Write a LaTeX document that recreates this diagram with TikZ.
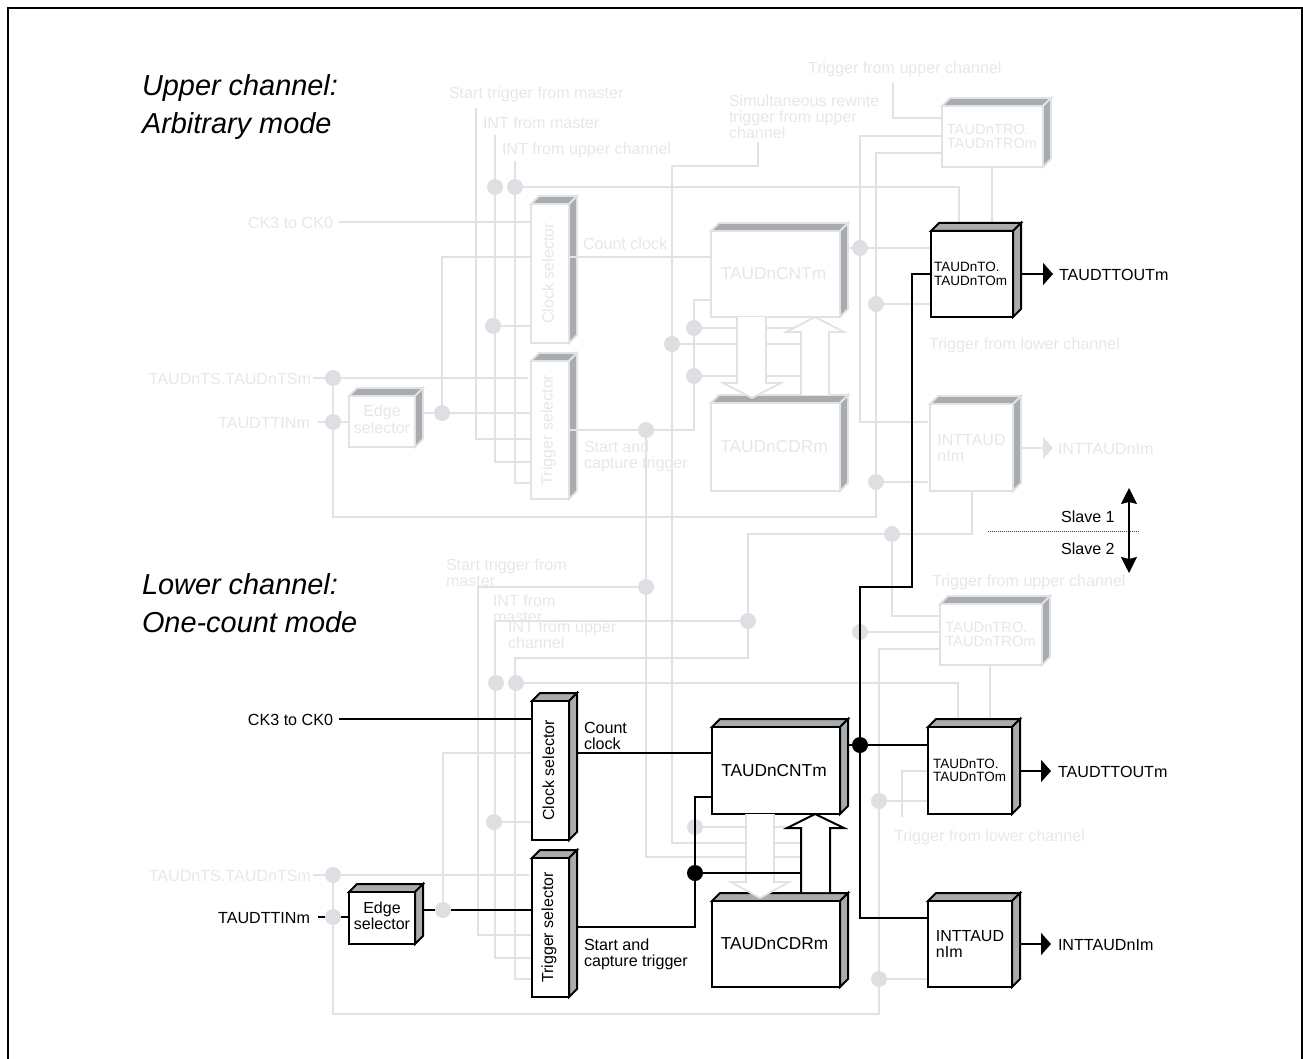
\documentclass[tikz,border=0pt]{standalone}
\usepackage{fontspec}
\setmainfont{Liberation Sans}
\usetikzlibrary{arrows.meta}
\definecolor{gl}{HTML}{E1E2E6}
\definecolor{gt}{HTML}{E6E7EA}
\definecolor{gd}{HTML}{DEDFE3}
\definecolor{sd}{HTML}{A8ACAF}
\newcommand\fs[2]{\fontsize{#1}{#2}\selectfont}
% style prefix (g/b), name, x1, y1, x2, y2, font, text
\newcommand\blk[8]{%
  \draw[#1face] (#3,#4) -- (#3+8,#4-8) -- (#5+8,#4-8) -- (#5,#4) -- cycle;
  \draw[#1face] (#5,#4) -- (#5+8,#4-8) -- (#5+8,#6-8) -- (#5,#6) -- cycle;
  \node[#1blk, font=#7, minimum width={(#5-#3)*1pt}, minimum height={(#6-#4)*1pt}] (#2) at ({(#3+#5)/2},{(#4+#6)/2}) {#8};
  \coordinate (#2-r) at (#5+8,#4);
}
\newcommand\edgetxt{\begin{tabular}{@{}c@{}}Edge\\selector\end{tabular}}
\tikzset{
  gface/.style={fill=sd,draw=gl,line width=1.8pt,line join=miter},
  bface/.style={fill=sd,draw=black,line width=2pt,line join=miter},
  gblk/.style={draw=gl,fill=white,line width=1.8pt,text=gt,inner sep=0pt,outer sep=0pt,align=left},
  bblk/.style={draw=black,fill=white,line width=2pt,text=black,inner sep=0pt,outer sep=0pt,align=left},
  gw/.style={draw=gl,line width=1.8pt,line join=miter},
  bw/.style={draw=black,line width=2pt,line join=miter},
  gdot/.style={circle,fill=gd,draw=none,minimum size=16pt,inner sep=0pt,outer sep=0pt},
  bdot/.style={circle,fill=black,draw=none,minimum size=16pt,inner sep=0pt,outer sep=0pt},
  lbl/.style={inner sep=0pt,outer sep=0pt,anchor=west,align=left,yshift=-1pt,font=\fs{16.1}{16}},
  glbl/.style={lbl,text=gt},
  head/.style={inner sep=0pt,outer sep=0pt,anchor=west,align=left,yshift=-1.5pt,font=\fs{28.9}{38}\itshape},
  gout/.style={gw,-{Triangle[length=10pt,width=22pt]}},
  bout/.style={bw,-{Triangle[length=10pt,width=22pt]}},
}
\begin{document}
\begin{tikzpicture}[x=1pt,y=-1pt]
\useasboundingbox (0,0) rectangle (1303,1059);
\coordinate (fa) at (8,1059); \coordinate (fb) at (1301.5,1059);
\draw[line width=2pt] (fa) -- (8,8) -- (1301.5,8) -- (fb);

% --- free ends
\coordinate (uS) at (476,108); \coordinate (uI) at (495,135); \coordinate (uU) at (515,161);
\coordinate (uCK) at (339,222); \coordinate (uTS) at (313,378); \coordinate (uTI) at (318,422);
\coordinate (uTRG) at (893,83); \coordinate (uSIM) at (758,142); \coordinate (uY) at (528,378);
\coordinate (lCK) at (339,719); \coordinate (lTS) at (313,875); \coordinate (lTI) at (318,917);
\coordinate (lLOW) at (902,817); \coordinate (lY) at (529,875);
\coordinate (uA) at (801,328); \coordinate (uB) at (801,344); \coordinate (uC) at (801,376);
\coordinate (lA) at (801,827); \coordinate (lB) at (801,843); \coordinate (lC) at (801,857);
\coordinate (uINTa) at (928,422); \coordinate (uINTb) at (928,482);

% --- junction positions
\coordinate (du1) at (495,187);
\coordinate (du2) at (515,187);
\coordinate (du3) at (493,326);
\coordinate (duTS) at (333,378);
\coordinate (duTI) at (333,422);
\coordinate (duE) at (442,413);
\coordinate (duT) at (646,430);
\coordinate (du4) at (694,328);
\coordinate (du5) at (672,344);
\coordinate (du6) at (694,376);
\coordinate (du7) at (860,248);
\coordinate (du8) at (876,304);
\coordinate (du9) at (876,482);
\coordinate (dm1) at (892,534);
\coordinate (dm2) at (646,587);
\coordinate (dm3) at (748,621);
\coordinate (dl1) at (496,683);
\coordinate (dl2) at (516,683);
\coordinate (dl3) at (494,822);
\coordinate (dlTS) at (333,875);
\coordinate (dlTI) at (333,917);
\coordinate (dlE) at (443,910);
\coordinate (dlC) at (695,827);
\coordinate (dl4) at (860,632);
\coordinate (dl5) at (879,801);
\coordinate (dl6) at (879,979);

% --- gray blocks
\blk{g}{clkU}{531}{204}{569}{343}{\fs{16}{16}}{\rotatebox{90}{Clock selector}\hspace*{4pt}}
\blk{g}{trigU}{531}{361}{569}{499}{\fs{16}{16}}{\rotatebox{90}{Trigger selector}\hspace*{3pt}}
\blk{g}{edgeU}{349}{396}{415}{447}{\fs{16}{16}}{\edgetxt}
\blk{g}{cntU}{711}{231}{840}{317}{\fs{17.3}{18}}{TAUDnCNTm\hspace*{4pt}}
\blk{g}{cdrU}{711}{403}{840}{491}{\fs{17.3}{18}}{TAUDnCDRm\hspace*{3pt}}
\blk{g}{trU}{942}{106}{1043}{167}{\fs{14.7}{14}}{TAUDnTRO.\\TAUDnTROm\hspace*{1pt}}
\blk{g}{intU}{930}{404}{1013}{491}{\fs{16}{16}}{INTTAUD\\nIm\hspace*{3pt}}
\blk{g}{trL}{940}{604}{1042}{665}{\fs{14.7}{14}}{TAUDnTRO.\\TAUDnTROm\hspace*{1pt}}

% --- gray wiring, upper channel
\draw[gw] (uS) -- (476,439) -- (trigU.west |- 0,439);
\draw[gw] (uI) -- (495,462) -- (trigU.west |- 0,462);
\draw[gw] (uU) -- (515,483) -- (trigU.west |- 0,483);
\draw[gw] (du2) -- (959,187) -- (959,225);
\draw[gw] (uCK) -- (clkU.west |- 0,222);
\draw[gw] (duE) -- (442,257) -- (clkU.west |- 0,257);
\draw[gw] (du3) -- (clkU.west |- 0,326);
\draw[gw] (clkU.east |- 0,257) -- (cntU.west |- 0,257);
\draw[gw] (duTS) -- (uY);
\draw[gw] (uTS) -- (duTS);
\draw[gw] (uTI) -- (edgeU.west |- 0,422);
\draw[gw] (edgeU-r |- 0,413) -- (trigU.west |- 0,413);
\draw[gw] (trigU.east |- 0,430) -- (694,430) -- (694,300) -- (cntU.west |- 0,300);
\draw[gw] (uSIM) -- (758,166) -- (672,166) -- (672,843) -- (lB);
\draw[gw] (duT) -- (646,857) -- (lC);
\draw[gw] (dm2) -- (478,587) -- (478,935) -- (532,935);
\draw[gw] (du4) -- (uA);
\draw[gw] (du5) -- (uB);
\draw[gw] (du6) -- (uC);
\draw[gw] (uTRG) -- (893,118) -- (trU.west |- 0,118);
\draw[gw] (trU.west |- 0,136) -- (860,136) -- (860,422) -- (uINTa);
\draw[gw] (trU.west |- 0,153) -- (876,153) -- (876,517) -- (333,517) -- (duTS);
\draw[gw] (cntU-r |- 0,248) -- (931,248);
\draw[gw] (du8) -- (931,304);
\draw[gw] (du9) -- (uINTb);
\draw[gw] (trU.south -| 992,0) -- (992,225);
% --- gray wiring, between and lower
\draw[gw] (intU.south -| 972,0) -- (972,534) -- (748,534) -- (dm3);
\draw[gw] (dm1) -- (892,616) -- (trL.west |- 0,616);
\draw[gw] (dm3) -- (495,621) -- (495,958) -- (532,958);
\draw[gw] (dm3) -- (748,658) -- (515,658) -- (515,979) -- (532,979);
\draw[gw] (dl2) -- (958,683) -- (958,722);
\draw[gw] (dl3) -- (532,822);
\draw[gw] (dlC) -- (lA);
\draw[gw] (lTS) -- (lY);
\draw[gw] (dlTS) -- (333,1014) -- (879,1014) -- (879,649) -- (trL.west |- 0,649);
\draw[gw] (dl4) -- (trL.west |- 0,632);
\draw[gw] (dl5) -- (928,801);
\draw[gw] (dl6) -- (928,979);
\draw[gw] (lLOW) -- (902,771) -- (928,771);
\draw[gw] (trL.south -| 990,0) -- (990,722);
\draw[gw] (dlE) -- (443,753) -- (532,753);

% black wires that pass under gray dots
\draw[bw] (lTI) -- (349,917);
\draw[bw] (423,910) -- (532,910);

% --- gray dots
\foreach \d in {du1,du2,du3,duTS,duTI,duE,duT,du4,du5,du6,du7,du8,du9,dm1,dm2,dm3,dl1,dl2,dl3,dlTS,dlTI,dlE,dlC,dl4,dl5,dl6}
  {\node[gdot] (n\d) at (\d) {};}

% --- gray outputs
\coordinate (oIU) at (1053,448);
\draw[gout] (intU-r |- 0,448) -- (oIU);

% --- black blocks
\blk{b}{toU}{931}{231}{1013}{317}{\fs{13.5}{13.5}}{TAUDnTO.\\TAUDnTOm\hspace*{3pt}}
\blk{b}{clkL}{532}{701}{569}{840}{\fs{16}{16}}{\rotatebox{90}{Clock selector}\hspace*{4pt}}
\blk{b}{trigL}{532}{858}{569}{997}{\fs{16}{16}}{\rotatebox{90}{Trigger selector}\hspace*{3pt}}
\blk{b}{edgeL}{349}{892}{415}{944}{\fs{16}{16}}{\edgetxt}
\blk{b}{cntL}{712}{727}{840}{814}{\fs{17.3}{18}}{TAUDnCNTm\hspace*{4pt}}
\blk{b}{cdrL}{712}{901}{840}{987}{\fs{17.3}{18}}{TAUDnCDRm\hspace*{3pt}}
\blk{b}{toL}{928}{727}{1012}{814}{\fs{13.5}{13.5}}{TAUDnTO.\\TAUDnTOm\hspace*{1pt}}
\blk{b}{intL}{928}{901}{1012}{987}{\fs{16}{16}}{INTTAUD\\nIm\hspace*{3pt}}

% --- wide bus arrows, gray
\draw[gw,fill=white] (737,317) -- (737,383) -- (723,383) -- (752,398) -- (781,383) -- (766,383) -- (766,317);
\draw[gw,fill=white] (801,395) -- (801,332) -- (786,332) -- (815,317) -- (844,332) -- (829,332) -- (829,395);
\draw[gw,fill=white] (746,814) -- (746,882) -- (731,882) -- (760,898) -- (789,882) -- (774,882) -- (774,814);
% --- wide bus arrow, black
\draw[bw,fill=white] (801,892) -- (801,828) -- (787,828) -- (815,814) -- (844,828) -- (830,828) -- (830,892);

% --- black wiring
\coordinate (oTU) at (1053,274); \coordinate (oTL) at (1051,771); \coordinate (oIL) at (1051,944);
\draw[bout] (toU-r |- 0,274) -- (oTU);
\draw[bout] (toL-r |- 0,771) -- (oTL);
\draw[bout] (intL-r |- 0,944) -- (oIL);
\draw[bw] (lCK) -- (clkL.west |- 0,719);
\draw[bw] (clkL-r |- 0,753) -- (cntL.west |- 0,753);
\draw[bw] (trigL-r |- 0,927) -- (695,927) -- (695,797) -- (cntL.west |- 0,797);
\draw[bw] (801,873) -- (695,873);
\draw[bw] (toU.west |- 0,274) -- (912,274) -- (912,587) -- (860,587) -- (860,918) -- (intL.west |- 0,918);
\draw[bw] (cntL-r |- 0,745) -- (toL.west |- 0,745);
\node[bdot] (bj1) at (860,745) {};
\node[bdot] (bj2) at (695,873) {};

% --- slave divider
\coordinate (sa) at (988,531); \coordinate (sb) at (1139,531);
\coordinate (sc) at (1129,488); \coordinate (se) at (1129,573);
\draw[line width=1pt,draw=black!75,dash pattern=on 1pt off 1pt] (sa) -- (sb);
\draw[line width=1.4pt,{Stealth[length=16pt,width=16pt,inset=2pt]}-{Stealth[length=16pt,width=16pt,inset=2pt]}] (sc) -- (se);
\node[lbl] (sl1) at (1061,516) {Slave 1};
\node[lbl] (sl2) at (1061,548) {Slave 2};

% --- headings
\node[head] (h1) at (142,106) {Upper channel:\\Arbitrary mode};
\node[head] (h2) at (142,602) {Lower channel:\\One-count mode};

% --- gray labels
\node[glbl] (t1) at (449,93) {Start trigger from master};
\node[glbl] (t2) at (483,122) {INT from master};
\node[glbl] (t3) at (502,149) {INT from upper channel};
\node[glbl] (t4) at (729,116) {Simultaneous rewrite\\trigger from upper\\channel};
\node[glbl] (t5) at (808,68) {Trigger from upper channel};
\node[glbl,anchor=east] (t6) at (333,222) {CK3 to CK0};
\node[glbl] (t7) at (583,243) {Count clock};
\node[glbl,anchor=east] (t8) at (311,378) {TAUDnTS.TAUDnTSm};
\node[glbl,anchor=east] (t9) at (310,422) {TAUDTTINm};
\node[glbl] (t10) at (584,455) {Start and\\capture trigger};
\node[glbl] (t11) at (929,344) {Trigger from lower channel};
\node[glbl] (t12) at (1058,448) {INTTAUDnIm};
\node[glbl] (t13) at (446,572) {Start trigger from\\master};
\node[glbl] (t14) at (493,608) {INT from\\master};
\node[glbl] (t15) at (508,634) {INT from upper\\channel};
\node[glbl] (t16) at (932,581) {Trigger from upper channel};
\node[glbl,anchor=east] (t17) at (311,875) {TAUDnTS.TAUDnTSm};
\node[glbl] (t18) at (894,836) {Trigger from lower channel};
% --- black labels
\node[lbl] (k1) at (1059,274) {TAUDTTOUTm};
\node[lbl,anchor=east] (k2) at (333,719) {CK3 to CK0};
\node[lbl] (k3) at (584,735) {Count\\clock};
\node[lbl,anchor=east] (k4) at (310,917) {TAUDTTINm};
\node[lbl] (k5) at (584,953) {Start and\\capture trigger};
\node[lbl] (k6) at (1058,771) {TAUDTTOUTm};
\node[lbl] (k7) at (1058,944) {INTTAUDnIm};
\end{tikzpicture}
\end{document}
